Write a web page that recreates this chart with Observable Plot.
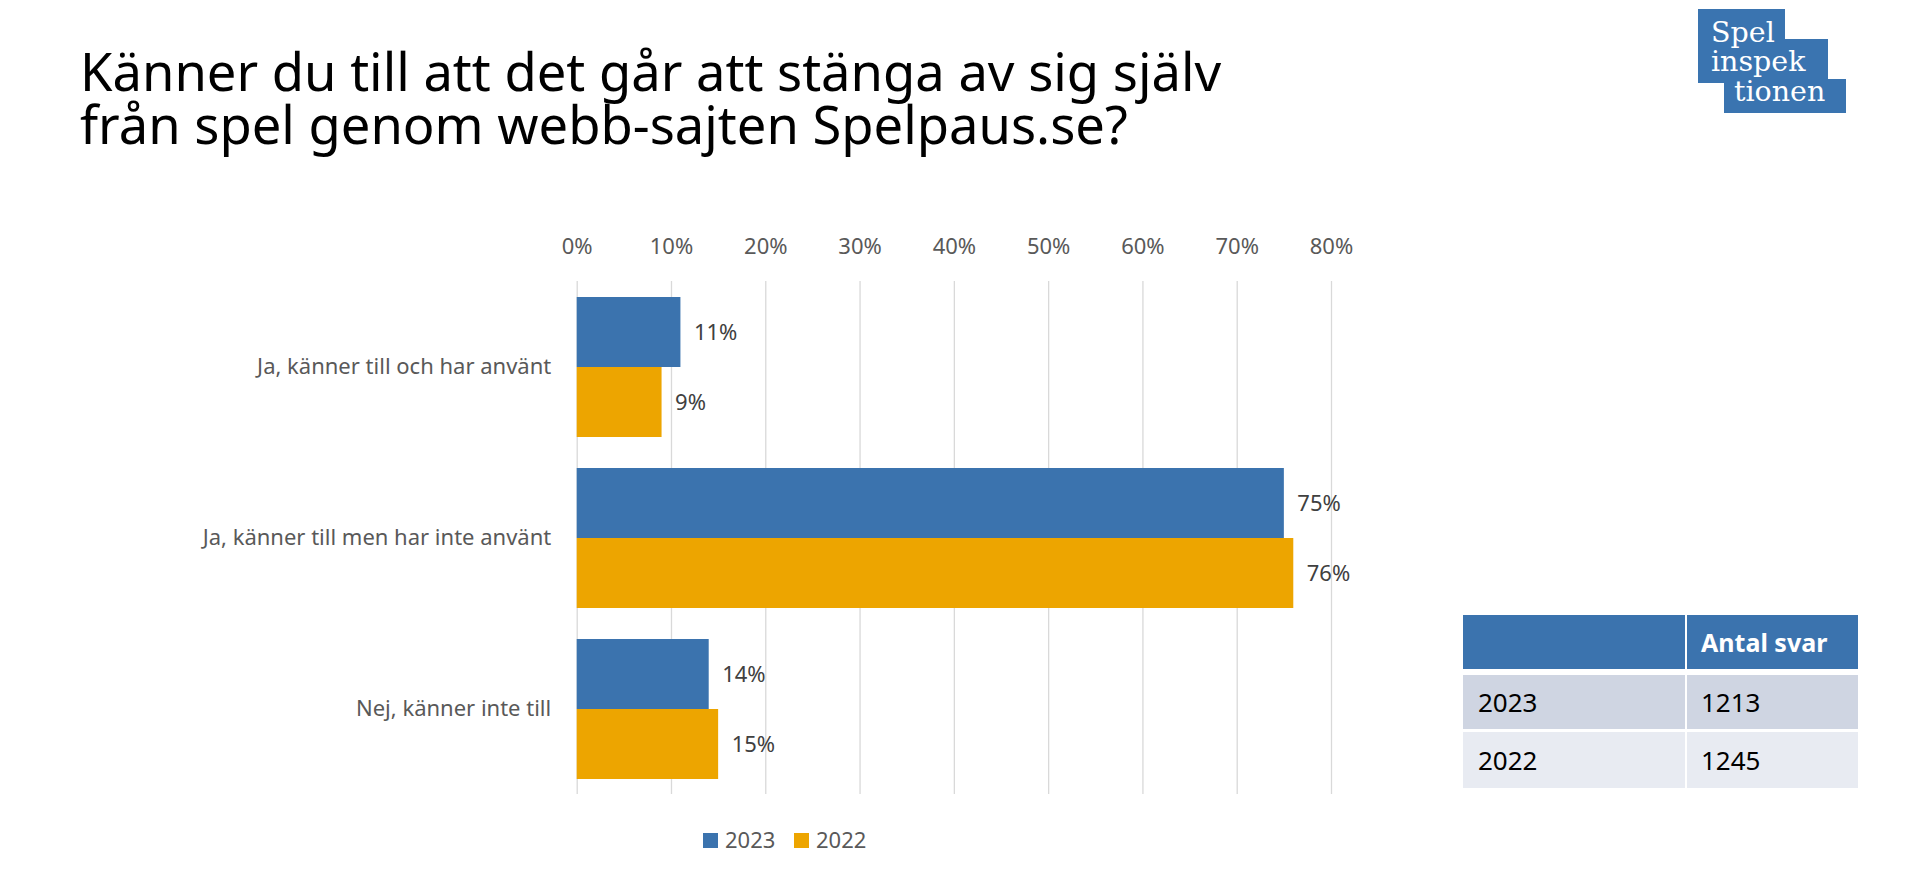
<!DOCTYPE html>
<html>
<head>
<meta charset="utf-8">
<script src="https://cdn.jsdelivr.net/npm/d3@7"></script>
<script src="https://cdn.jsdelivr.net/npm/@observablehq/plot@0.6"></script>
<style>
  html, body { margin: 0; padding: 0; background: #ffffff; }
  body { width: 1912px; height: 884px; position: relative; overflow: hidden; font-family: "Noto Sans", sans-serif; }
  .tline { position: absolute; left: 80px; height: 52px; font-size: 52.5px; line-height: 52px; color: #000; white-space: nowrap; overflow: visible; }
  #chart { position: absolute; left: 0; top: 190px; }
  #logo, #legend { position: absolute; left: 0; top: 0; }
  .cell { position: absolute; box-sizing: border-box; color: #000; font-size: 26px; }
</style>
</head>
<body>
<div id="title"></div>
<div id="chart"></div>
<svg id="logo" width="1912" height="130"></svg>
<svg id="legend" width="1912" height="884" style="pointer-events:none"></svg>
<div id="table"></div>
<script>
// ---- data ----
const titleLines = ["Känner du till att det går att stänga av sig själv", "från spel genom webb-sajten Spelpaus.se?"];
const categories = ["Ja, känner till och har använt", "Ja, känner till men har inte använt", "Nej, känner inte till"];
const years = ["2023", "2022"];
const values2023 = [11, 75, 14];
const values2022 = [9, 76, 15];
const xTicks = [0, 10, 20, 30, 40, 50, 60, 70, 80];
const colors = ["#3b73ae", "#eda500"];
const tableHeader = ["", "Antal svar"];
const tableYears = ["2023", "2022"];
const tableCounts = [1213, 1245];
const logoLines = ["Spel", "inspek", "tionen"];

// ---- title ----
const titleEl = document.getElementById("title");
titleLines.forEach((t, i) => {
  const d = document.createElement("div");
  d.className = "tline";
  d.style.top = (45 + i * 52.5) + "px";
  d.textContent = t;
  titleEl.appendChild(d);
});

// ---- chart ----
const valuesByYear = {"2023": values2023, "2022": values2022};
const data = categories.flatMap((c, i) => years.map(y => ({category: c, year: y, value: valuesByYear[y][i]})));

const chart = Plot.plot({
  width: 1371,
  height: 610,
  marginTop: 90,
  marginBottom: 6,
  marginLeft: 576.7,
  marginRight: 40,
  style: {fontFamily: "Noto Sans", fontSize: "22px", color: "#595959", background: "transparent", overflow: "visible"},
  x: {domain: [0, 80], ticks: xTicks, tickFormat: d => d + "%", axis: "top", label: null, tickSize: 0, tickPadding: 28},
  y: {domain: years, paddingInner: 0, paddingOuter: 0.206, axis: null},
  fy: {domain: categories, padding: 0, axis: "left", label: null, tickSize: 0, tickPadding: 26},
  color: {domain: years, range: colors},
  marks: [
    Plot.gridX(xTicks, {stroke: "#d9d9d9", strokeOpacity: 1, strokeWidth: 1.3}),
    Plot.barX(data, {fy: "category", y: "year", x: "value", fill: "year"}),
    Plot.text(data, {fy: "category", y: "year", x: "value", text: d => d.value + "%", dx: 13, textAnchor: "start", fill: "#404040", fontSize: 22})
  ]
});
document.getElementById("chart").appendChild(chart);

// ---- legend ----
const lg = d3.select("#legend");
const legendX = [703, 794];
years.forEach((y, i) => {
  lg.append("rect").attr("x", legendX[i]).attr("y", 833).attr("width", 15).attr("height", 15).attr("fill", colors[i]);
  lg.append("text").attr("x", legendX[i] + 22).attr("y", 848).attr("font-family", "Noto Sans").attr("font-size", 22).attr("fill", "#595959").text(y);
});

// ---- logo ----
const logo = d3.select("#logo");
const logoBlue = "#3a74b0";
[[1698, 9, 87, 74], [1698, 39, 130, 44], [1724, 79, 122, 34]].forEach(([x, y, w, h]) =>
  logo.append("rect").attr("x", x).attr("y", y).attr("width", w).attr("height", h).attr("fill", logoBlue));
[[1711, 42], [1711, 71], [1734, 101]].forEach(([x, y], i) =>
  logo.append("text").attr("x", x).attr("y", y).attr("font-family", "DejaVu Serif").attr("font-size", 28.5).attr("fill", "#fff").text(logoLines[i]));

// ---- table ----
const tbl = document.getElementById("table");
const colX = [1463, 1687], colW = [222, 171];
const rowY = [615, 675, 732], rowH = [54, 54, 56];
const rowBg = ["#3b73ae", "#cfd5e2", "#e8ebf2"];
const rows = [tableHeader, [tableYears[0], String(tableCounts[0])], [tableYears[1], String(tableCounts[1])]];
rows.forEach((r, ri) => r.forEach((txt, ci) => {
  const d = document.createElement("div");
  d.className = "cell";
  d.style.left = colX[ci] + "px";
  d.style.top = rowY[ri] + "px";
  d.style.width = colW[ci] + "px";
  d.style.height = rowH[ri] + "px";
  d.style.background = rowBg[ri];
  d.style.lineHeight = rowH[ri] + "px";
  d.style.paddingLeft = (ci === 0 ? 15 : 14) + "px";
  if (ri === 0) { d.style.color = "#fff"; d.style.fontWeight = "bold"; d.style.fontSize = "25px"; }
  d.textContent = txt;
  tbl.appendChild(d);
}));
</script>
</body>
</html>
